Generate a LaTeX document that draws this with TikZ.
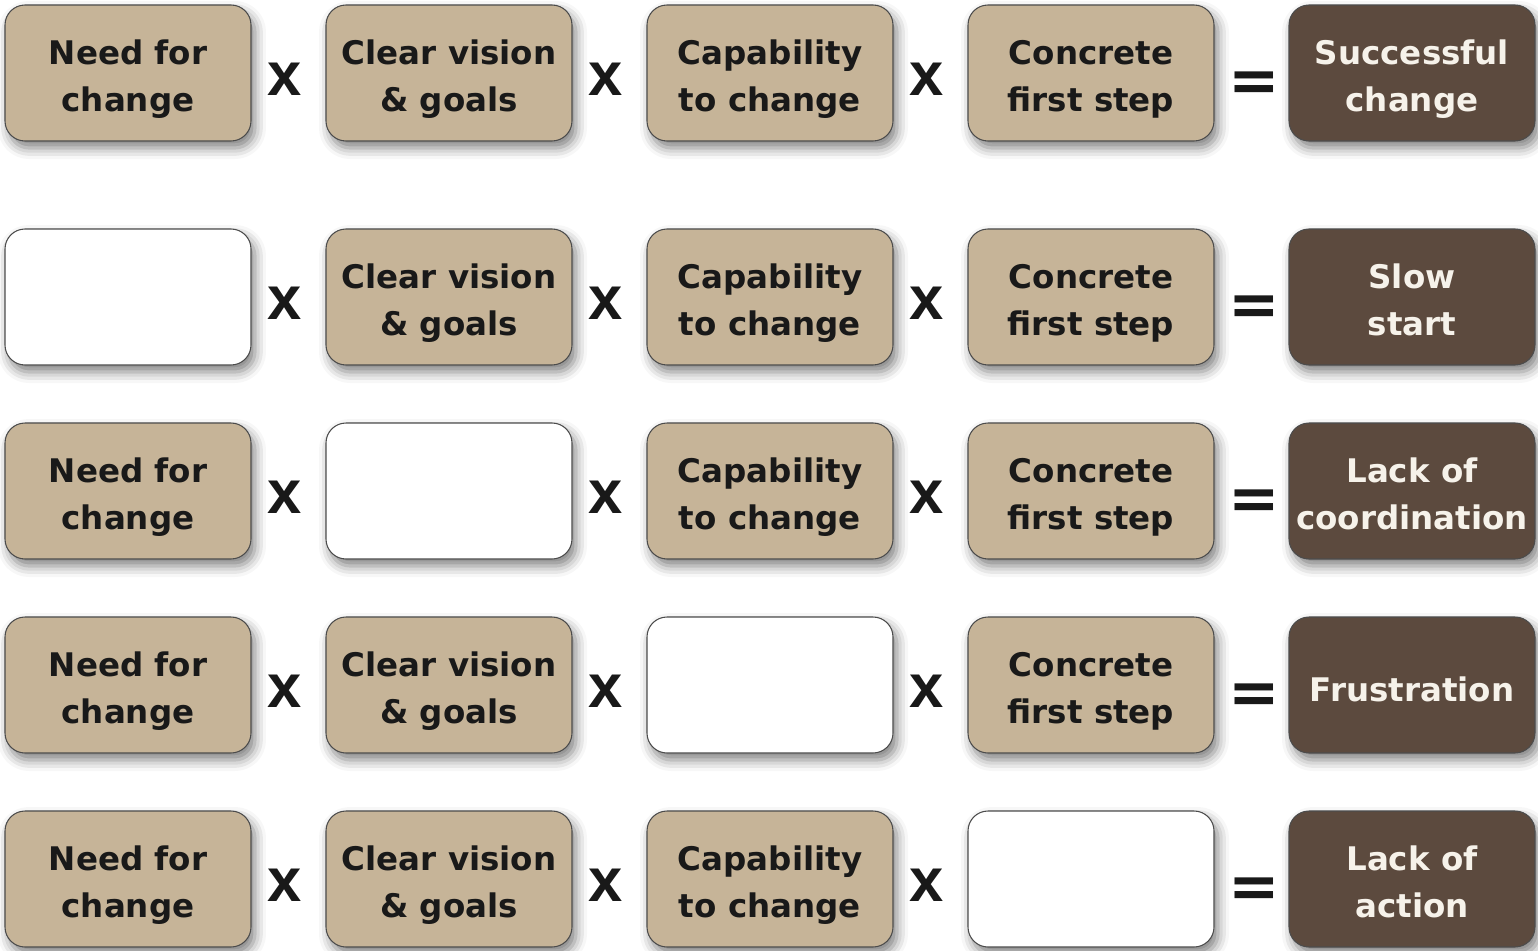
\documentclass[tikz,border=0pt]{standalone}
\usepackage{fontspec}
\setmainfont{DejaVu Sans}
\newfontfamily\opfont{Liberation Sans}
\usepackage{tikz}
\usetikzlibrary{positioning, calc, shadows.blur}
\definecolor{tanbox}{RGB}{198,180,152}
\definecolor{darkbrown}{RGB}{92,74,62}
\definecolor{lighttext}{RGB}{246,242,234}
\tikzset{
  factor/.style={
      draw=black!70,
      fill=tanbox,
      rectangle,
      rounded corners=0.4cm,
      minimum width=4.92cm,
      minimum height=2.72cm,
      inner sep=0pt,
      outer sep=0pt,
      text height=44.2pt,
      text depth=0pt,
      align=center,
      line width=0.6pt,
      text=black!90,
      font=\fontsize{18.5}{26.7}\selectfont\bfseries,
      blur shadow={shadow xshift=0.08cm, shadow yshift=-0.14cm,
                   shadow blur radius=0.22cm, shadow opacity=50}
  },
  missing/.style={factor, fill=white},
  result/.style={factor, fill=darkbrown, text=lighttext},
  oneline/.style={text height=19pt},
  times/.style={
      inner sep=0pt,
      text=black!90,
      font=\opfont\fontsize{35}{35}\selectfont\bfseries
  },
  equals/.style={
      inner sep=0pt,
      text=black!90,
      font=\fontsize{35}{35}\selectfont\bfseries
  }
}

\begin{document}
\begin{tikzpicture}[node distance=1.16cm and 1.5cm]
      \useasboundingbox (-2.56,1.46) rectangle (28.2,-17.56);

      % Row 1: everything in place
      \node (a1) [factor] {Need for\\change};
      \node (b1) [factor, right=of a1] {Clear vision\\\& goals};
      \node (c1) [factor, right=of b1] {Capability\\to change};
      \node (d1) [factor, right=of c1] {Concrete\\first step};
      \node (e1) [result, right=of d1] {Successful\\change};

      % Row 2: no need for change
      \node (a2) [missing, below=1.76cm of a1] {};
      \node (b2) [factor, right=of a2] {Clear vision\\\& goals};
      \node (c2) [factor, right=of b2] {Capability\\to change};
      \node (d2) [factor, right=of c2] {Concrete\\first step};
      \node (e2) [result, right=of d2] {Slow\\start};

      % Row 3: no vision
      \node (a3) [factor, below=of a2] {Need for\\change};
      \node (b3) [missing, right=of a3] {};
      \node (c3) [factor, right=of b3] {Capability\\to change};
      \node (d3) [factor, right=of c3] {Concrete\\first step};
      \node (e3) [result, right=of d3] {Lack of\\coordination};

      % Row 4: no capability
      \node (a4) [factor, below=of a3] {Need for\\change};
      \node (b4) [factor, right=of a4] {Clear vision\\\& goals};
      \node (c4) [missing, right=of b4] {};
      \node (d4) [factor, right=of c4] {Concrete\\first step};
      \node (e4) [result, oneline, right=of d4] {Frustration};

      % Row 5: no first step
      \node (a5) [factor, below=of a4] {Need for\\change};
      \node (b5) [factor, right=of a5] {Clear vision\\\& goals};
      \node (c5) [factor, right=of b5] {Capability\\to change};
      \node (d5) [missing, right=of c5] {};
      \node (e5) [result, right=of d5] {Lack of\\action};

      % Operators
      \node (x1a) [times] at ($(a1.east)!0.5!(b1.west)+(-0.07,-0.12)$) {x};
      \node (x1b) [times] at ($(b1.east)!0.5!(c1.west)+(-0.07,-0.12)$) {x};
      \node (x1c) [times] at ($(c1.east)!0.5!(d1.west)+(-0.07,-0.12)$) {x};
      \node (eq1) [equals] at ($(d1.east)!0.5!(e1.west)+(0.05,-0.28)$) {=};

      \node (x2a) [times] at ($(a2.east)!0.5!(b2.west)+(-0.07,-0.12)$) {x};
      \node (x2b) [times] at ($(b2.east)!0.5!(c2.west)+(-0.07,-0.12)$) {x};
      \node (x2c) [times] at ($(c2.east)!0.5!(d2.west)+(-0.07,-0.12)$) {x};
      \node (eq2) [equals] at ($(d2.east)!0.5!(e2.west)+(0.05,-0.28)$) {=};

      \node (x3a) [times] at ($(a3.east)!0.5!(b3.west)+(-0.07,-0.12)$) {x};
      \node (x3b) [times] at ($(b3.east)!0.5!(c3.west)+(-0.07,-0.12)$) {x};
      \node (x3c) [times] at ($(c3.east)!0.5!(d3.west)+(-0.07,-0.12)$) {x};
      \node (eq3) [equals] at ($(d3.east)!0.5!(e3.west)+(0.05,-0.28)$) {=};

      \node (x4a) [times] at ($(a4.east)!0.5!(b4.west)+(-0.07,-0.12)$) {x};
      \node (x4b) [times] at ($(b4.east)!0.5!(c4.west)+(-0.07,-0.12)$) {x};
      \node (x4c) [times] at ($(c4.east)!0.5!(d4.west)+(-0.07,-0.12)$) {x};
      \node (eq4) [equals] at ($(d4.east)!0.5!(e4.west)+(0.05,-0.28)$) {=};

      \node (x5a) [times] at ($(a5.east)!0.5!(b5.west)+(-0.07,-0.12)$) {x};
      \node (x5b) [times] at ($(b5.east)!0.5!(c5.west)+(-0.07,-0.12)$) {x};
      \node (x5c) [times] at ($(c5.east)!0.5!(d5.west)+(-0.07,-0.12)$) {x};
      \node (eq5) [equals] at ($(d5.east)!0.5!(e5.west)+(0.05,-0.28)$) {=};
\end{tikzpicture}
\end{document}
